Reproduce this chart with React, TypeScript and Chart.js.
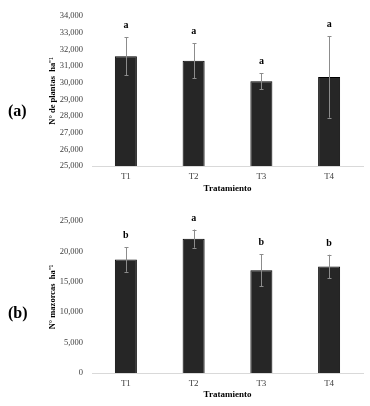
import React, { useEffect, useRef } from "react";
import { Chart, registerables } from "chart.js";

Chart.register(...registerables);

const categories = ["T1", "T2", "T3", "T4"];

const plantasMeans = [31580, 31320, 30080, 30340];
const plantasSD = [1140, 1050, 480, 2440];
const plantasLetters = ["a", "a", "a", "a"];

const mazorcasMeans = [18650, 22100, 16900, 17500];
const mazorcasSD = [2000, 1500, 2600, 1950];
const mazorcasLetters = ["b", "a", "b", "b"];

const FONT = "'Liberation Serif', 'Times New Roman', serif";

type PanelProps = {
  means: number[];
  sd: number[];
  letters: string[];
  yTitle: string;
  min: number;
  max: number;
  step: number;
  height: number;
  padTop: number;
  xAxisHeight: number;
};

const errorPlugin = {
  id: "errorLetters",
  afterDatasetsDraw(chart: any, _args: any, opts: any) {
    const { ctx } = chart;
    const meta = chart.getDatasetMeta(0);
    const ys = chart.scales.y;
    ctx.save();
    meta.data.forEach((bar: any, i: number) => {
      const m = opts.means[i];
      const s = opts.sd[i];
      const x = Math.round(bar.x) + 0.5;
      const yTop = ys.getPixelForValue(m + s);
      const yBot = ys.getPixelForValue(m - s);
      ctx.strokeStyle = "#8c8c8c";
      ctx.lineWidth = 1;
      ctx.beginPath();
      ctx.moveTo(x, yTop);
      ctx.lineTo(x, yBot);
      ctx.moveTo(x - 2, Math.round(yTop) + 0.5);
      ctx.lineTo(x + 2, Math.round(yTop) + 0.5);
      ctx.moveTo(x - 2, Math.round(yBot) + 0.5);
      ctx.lineTo(x + 2, Math.round(yBot) + 0.5);
      ctx.stroke();
      ctx.fillStyle = "#000";
      ctx.font = `bold 10px ${FONT}`;
      ctx.textAlign = "center";
      ctx.textBaseline = "alphabetic";
      ctx.fillText(opts.letters[i], bar.x, yTop - 9);
    });
    ctx.restore();
  },
};

function Panel(p: PanelProps) {
  const ref = useRef<HTMLCanvasElement | null>(null);
  useEffect(() => {
    if (!ref.current) return;
    const chart = new Chart(ref.current, {
      type: "bar",
      data: {
        labels: categories,
        datasets: [
          {
            data: p.means,
            backgroundColor: "#262626",
            borderColor: "#000000",
            borderWidth: 1,
            categoryPercentage: 0.325,
            barPercentage: 1,
          },
        ],
      },
      plugins: [errorPlugin],
      options: {
        animation: false,
        responsive: false,
        maintainAspectRatio: false,
        layout: { padding: { top: p.padTop, right: 7, left: 0, bottom: 0 } },
        plugins: {
          legend: { display: false },
          tooltip: { enabled: false },
          errorLetters: { means: p.means, sd: p.sd, letters: p.letters },
        } as any,
        scales: {
          x: {
            grid: { display: false, drawTicks: false },
            border: { display: true, color: "#d9d9d9", width: 1 },
            ticks: { color: "#404040", font: { family: FONT, size: 9 }, padding: 5 },
            title: {
              display: true,
              text: "Tratamiento",
              color: "#000",
              font: { family: FONT, size: 9, weight: "bold" },
              padding: { top: 0, bottom: 6 },
            },
            afterFit: (s: any) => {
              s.height = p.xAxisHeight;
            },
          },
          y: {
            min: p.min,
            max: p.max,
            grid: { display: false, drawTicks: false },
            border: { display: false },
            ticks: {
              stepSize: p.step,
              color: "#404040",
              font: { family: FONT, size: 8.5 },
              padding: 9,
            },
            title: {
              display: true,
              text: p.yTitle,
              color: "#000",
              font: { family: FONT, size: 8.5, weight: "bold" },
              padding: { top: 48, bottom: 0 },
            },
            afterFit: (s: any) => {
              s.width = 92;
            },
          },
        },
      } as any,
    });
    return () => chart.destroy();
  }, []);
  return (
    <canvas
      ref={ref}
      width={370}
      height={p.height}
      style={{ display: "block", width: 370, height: p.height }}
    />
  );
}

const labelStyle: React.CSSProperties = {
  position: "absolute",
  left: 8,
  fontFamily: FONT,
  fontWeight: "bold",
  fontSize: 16,
  lineHeight: "16px",
  color: "#000",
};

export default function App() {
  return (
    <div
      style={{
        position: "absolute",
        left: 0,
        top: 0,
        width: 370,
        height: 406,
        background: "#fff",
      }}
    >
      <div style={{ position: "absolute", left: 0, top: 0 }}>
        <Panel
          means={plantasMeans}
          sd={plantasSD}
          letters={plantasLetters}
          yTitle="N° de plantas  ha⁻¹"
          min={25000}
          max={34000}
          step={1000}
          height={200}
          padTop={16}
          xAxisHeight={34}
        />
      </div>
      <div style={{ position: "absolute", left: 0, top: 200 }}>
        <Panel
          means={mazorcasMeans}
          sd={mazorcasSD}
          letters={mazorcasLetters}
          yTitle="N° mazorcas  ha⁻¹"
          min={0}
          max={25000}
          step={5000}
          height={206}
          padTop={21}
          xAxisHeight={33}
        />
      </div>
      <div style={{ ...labelStyle, top: 103 }}>(a)</div>
      <div style={{ ...labelStyle, top: 305 }}>(b)</div>
    </div>
  );
}
